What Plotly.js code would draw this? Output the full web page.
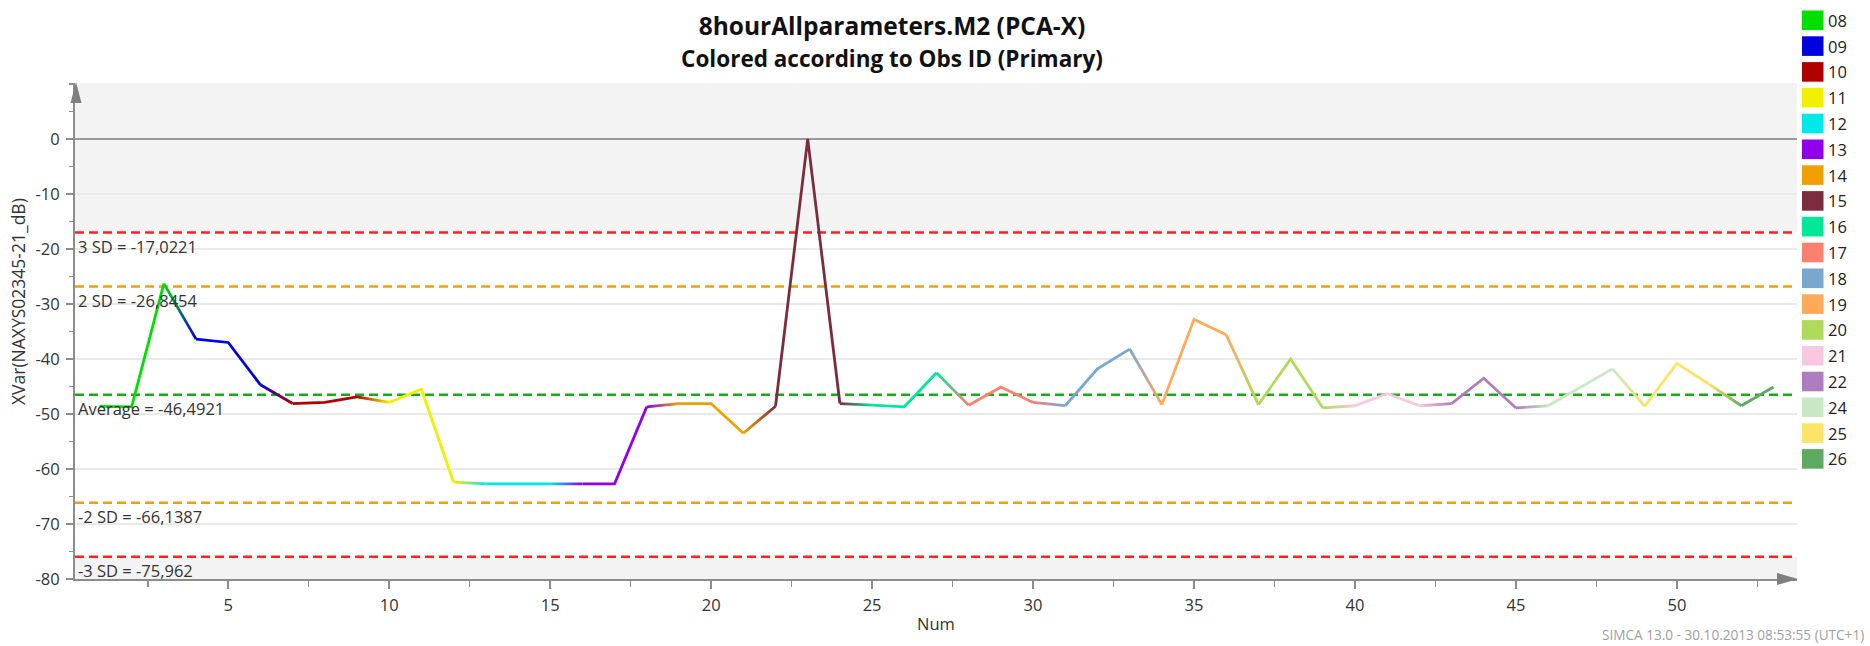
<!DOCTYPE html>
<html>
<head>
<meta charset="utf-8">
<script src="https://cdn.plot.ly/plotly-3.0.1.min.js"></script>
<style>
html,body{margin:0;padding:0;background:#fff;}
#chart{width:1870px;height:646px;}
</style>
</head>
<body>
<div id="chart"></div>
<script>
// ---------- DATA ----------
const num = [1,2,3,4,5,6,7,8,9,10,11,12,13,14,15,16,17,18,19,20,21,22,23,24,25,26,27,28,29,30,
             31,32,33,34,35,36,37,38,39,40,41,42,43,44,45,46,47,48,49,50,51,52,53];
const xvar = [-48.6,-48.7,-26.3,-36.4,-37.0,-44.7,-48.1,-47.9,-46.9,-47.9,
              -45.5,-62.4,-62.7,-62.7,-62.7,-62.7,-62.7,-48.7,-48.1,-48.1,
              -53.5,-48.6,0.0,-48.1,-48.4,-48.7,-42.5,-48.4,-45.1,-47.9,
              -48.5,-41.8,-38.2,-48.3,-32.8,-35.6,-48.3,-40.0,-48.9,-48.5,
              -46.3,-48.5,-48.1,-43.5,-48.9,-48.5,-45.2,-41.8,-48.6,-40.8,
              -44.6,-48.5,-45.1];
const obsId = ['08','08','08','09','09','09','10','10','10','11','11','11','12','12','12',
               '13','13','13','14','14','14','15','15','15','16','16','16','17','17','17',
               '18','18','18','19','19','19','20','20','20','21','21','21','22','22','22',
               '24','24','24','25','25','25','26','26'];
const idList = ['08','09','10','11','12','13','14','15','16','17','18','19','20','21','22','24','25','26'];
const idColors = ['#00e000','#0000e0','#b00000','#f0f000','#00e8e8','#9000e8','#f0a000','#7b2d3e',
                  '#00e898','#fa8070','#78a8d0','#ffaa58','#b0da5a','#f8c8e0','#b07cc0','#c8e8c4',
                  '#fce468','#5eaa60'];
const limitValues = [-17.0221,-26.8454,-46.4921,-66.1387,-75.962];
const limitLabels = ['3 SD = -17,0221','2 SD = -26,8454','Average = -46,4921','-2 SD = -66,1387','-3 SD = -75,962'];
const limitColors = ['#ff2020','#f0a000','#10b010','#f0a000','#ff2020'];
const yTickVals = [0,-10,-20,-30,-40,-50,-60,-70,-80];
const yTickText = ['0','-10','-20','-30','-40','-50','-60','-70','-80'];
const xTickVals = [5,10,15,20,25,30,35,40,45,50];
const xTickText = ['5','10','15','20','25','30','35','40','45','50'];

// ---------- LAYOUT HELPERS ----------
const W = 1870, H = 646;
const M = {l:75, r:73, t:83, b:67};
const PW = W - M.l - M.r, PH = H - M.t - M.b;
const px2x = p => (p - M.l) / PW;
const py2y = p => (H - M.b - p) / PH;
const xRange = [0.24, 53.73];
const yRange = [-80, 10.17];
const FONT = '"Open Sans", "Noto Sans", sans-serif';
const TXT = '#333333';
const AXC = '#8c8c8c';
const FS = 16.5;

// ---------- TRACES ----------
const traces = [];
const gradMap = {};
idList.forEach((id, k) => {
  const xs = [], ys = [];
  num.forEach((n, i) => { if (obsId[i] === id) { xs.push(n); ys.push(xvar[i]); } });
  traces.push({type:'scatter', mode:'lines', x:xs, y:ys, name:id,
    line:{color:idColors[k], width:2.8}, showlegend:false, hoverinfo:'skip', cliponaxis:false});
});
for (let i = 0; i < num.length - 1; i++) {
  if (obsId[i] !== obsId[i+1]) {
    const c0 = idColors[idList.indexOf(obsId[i])];
    const c1 = idColors[idList.indexOf(obsId[i+1])];
    gradMap[traces.length] = [c0, c1];
    traces.push({type:'scatter', mode:'lines', x:[num[i], num[i+1]], y:[xvar[i], xvar[i+1]],
      line:{color:c0, width:2.8}, showlegend:false, hoverinfo:'skip', cliponaxis:false});
  }
}

// ---------- SHAPES ----------
const shapes = [];
shapes.push({type:'rect', xref:'paper', x0:0, x1:1, yref:'y', y0:limitValues[0], y1:yRange[1],
  fillcolor:'#f3f3f3', line:{width:0}, layer:'below'});
shapes.push({type:'rect', xref:'paper', x0:0, x1:1, yref:'y', y0:yRange[0], y1:limitValues[4],
  fillcolor:'#f3f3f3', line:{width:0}, layer:'below'});
limitValues.forEach((v, i) => {
  shapes.push({type:'line', xref:'paper', x0:0, x1:1, yref:'y', y0:v, y1:v,
    line:{color:limitColors[i], width:2.5, dash:'9px,5px'}, layer:'between'});
});
const tri = pts => 'M' + pts.map(p => px2x(p[0]) + ',' + py2y(p[1])).join('L') + 'Z';
shapes.push({type:'path', xref:'paper', yref:'paper', path:tri([[76,82],[70.5,103],[81.5,103]]),
  fillcolor:'#7f7f7f', line:{width:0}, layer:'above'});
shapes.push({type:'path', xref:'paper', yref:'paper', path:tri([[1798,579],[1777,573],[1777,585]]),
  fillcolor:'#7f7f7f', line:{width:0}, layer:'above'});

// ---------- ANNOTATIONS ----------
const annotations = [];
limitLabels.forEach((t, i) => {
  annotations.push({xref:'paper', x:px2x(77), xanchor:'left', yref:'y', y:limitValues[i], yanchor:'top',
    yshift:-1, text:t, showarrow:false, font:{family:FONT, size:FS, color:TXT}, borderpad:0});
});
const legTop = 20.3, legPitch = 25.8;
idList.forEach((id, k) => {
  const cy = legTop + k * legPitch;
  shapes.push({type:'rect', xref:'paper', yref:'paper',
    x0:px2x(1802), x1:px2x(1823.5), y0:py2y(cy + 9.8), y1:py2y(cy - 9.8),
    fillcolor:idColors[k], line:{width:0}, layer:'above'});
  annotations.push({xref:'paper', x:px2x(1827), xanchor:'left', yref:'paper', y:py2y(cy), yanchor:'middle',
    text:id, showarrow:false, font:{family:FONT, size:FS, color:'#222'}, borderpad:0});
});
annotations.push({xref:'paper', x:px2x(18), xanchor:'center', yref:'paper', y:py2y(302), yanchor:'middle',
  textangle:-90, text:'XVar(NAXYS02345-21_dB)', showarrow:false, font:{family:FONT, size:17.5, color:TXT}});
annotations.push({xref:'paper', x:px2x(1866), xanchor:'right', yref:'paper', y:py2y(634), yanchor:'middle',
  text:'SIMCA 13.0 - 30.10.2013 08:53:55 (UTC+1)', showarrow:false, font:{family:FONT, size:13.6, color:'#a0a0a0'}});

// ---------- LAYOUT ----------
const layout = {
  width:W, height:H, margin:M,
  paper_bgcolor:'#ffffff', plot_bgcolor:'#ffffff',
  font:{family:FONT, size:FS, color:TXT},
  title:{text:'<b>8hourAllparameters.M2 (PCA-X)</b><br><b><span style="font-size:22.5px">Colored according to Obs ID (Primary)</span></b>',
    x:892/W, xanchor:'center', y:1 - 35/H, yanchor:'middle', font:{family:FONT, size:24.5, color:'#111'}},
  showlegend:false,
  xaxis:{range:xRange, tickmode:'array', tickvals:xTickVals, ticktext:xTickText,
    ticks:'outside', ticklen:8, tickwidth:1.5, tickcolor:AXC, ticklabelstandoff:2,
    showline:true, linecolor:AXC, linewidth:2, showgrid:false, zeroline:false,
    minor:{tickmode:'linear', tick0:0, dtick:2.5, ticks:'outside', ticklen:6, tickwidth:1.5, tickcolor:AXC, showgrid:false},
    tickfont:{family:FONT, size:FS, color:TXT},
    title:{text:'Num', font:{family:FONT, size:FS, color:TXT}, standoff:4}, fixedrange:true},
  yaxis:{range:yRange, tickmode:'array', tickvals:yTickVals, ticktext:yTickText,
    ticks:'outside', ticklen:7, tickwidth:1.5, tickcolor:AXC, ticklabelstandoff:3,
    showline:true, linecolor:AXC, linewidth:2,
    showgrid:true, gridcolor:'#e9e9e9', gridwidth:1.3,
    zeroline:true, zerolinecolor:'#9a9a9a', zerolinewidth:1.8,
    minor:{tickmode:'linear', tick0:0, dtick:5, ticks:'outside', ticklen:4, tickwidth:1.5, tickcolor:AXC, showgrid:false},
    tickfont:{family:FONT, size:FS, color:TXT}, fixedrange:true},
  shapes:shapes, annotations:annotations
};

Plotly.newPlot('chart', traces, layout, {staticPlot:true, displayModeBar:false}).then(gd => {
  const NS = 'http://www.w3.org/2000/svg';
  const svg = gd.querySelector('svg.main-svg');
  let defs = svg.querySelector('defs');
  if (!defs) { defs = document.createElementNS(NS, 'defs'); svg.insertBefore(defs, svg.firstChild); }
  gd.querySelectorAll('.scatterlayer .trace').forEach((g, pos) => {
    const cd = g.__data__;
    const idx = (cd && cd[0] && cd[0].trace) ? cd[0].trace.index : pos;
    const gc = gradMap[idx];
    if (!gc) return;
    const path = g.querySelector('path.js-line');
    if (!path) return;
    const nums = (path.getAttribute('d').match(/-?\d*\.?\d+(e-?\d+)?/g) || []).map(Number);
    if (nums.length < 4) return;
    const lg = document.createElementNS(NS, 'linearGradient');
    const id = 'seg' + idx;
    lg.setAttribute('id', id);
    lg.setAttribute('gradientUnits', 'userSpaceOnUse');
    lg.setAttribute('x1', nums[0]); lg.setAttribute('y1', nums[1]);
    lg.setAttribute('x2', nums[nums.length-2]); lg.setAttribute('y2', nums[nums.length-1]);
    [[0, gc[0]], [1, gc[1]]].forEach(s => {
      const st = document.createElementNS(NS, 'stop');
      st.setAttribute('offset', s[0]); st.setAttribute('stop-color', s[1]);
      lg.appendChild(st);
    });
    defs.appendChild(lg);
    path.style.stroke = 'url(#' + id + ')';
  });
});
</script>
</body>
</html>
